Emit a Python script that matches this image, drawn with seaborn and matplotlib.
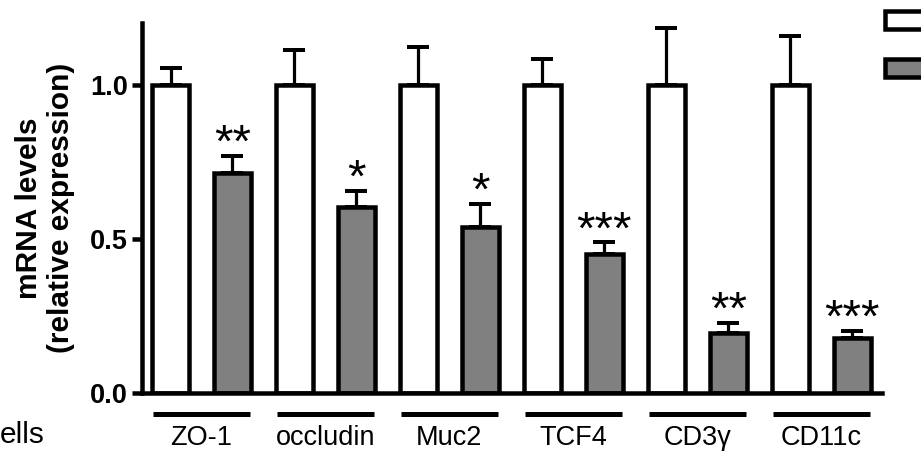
import pandas as pd
import seaborn as sns
import matplotlib.pyplot as plt
from matplotlib.patches import Patch

# values
genes = ['ZO-1', 'occludin', 'Muc2', 'TCF4', 'CD3γ', 'CD11c']
ctrl_mean = [1.0, 1.0, 1.0, 1.0, 1.0, 1.0]
ctrl_sem = [0.056, 0.114, 0.122, 0.084, 0.186, 0.159]
treat_mean = [0.714, 0.603, 0.540, 0.451, 0.194, 0.179]
treat_sem = [0.056, 0.053, 0.074, 0.038, 0.034, 0.022]
stars = ['**', '*', '*', '***', '**', '***']
groups = ['control', 'treated']

df = pd.DataFrame({
    'gene': genes * 2,
    'group': [groups[0]] * len(genes) + [groups[1]] * len(genes),
    'value': ctrl_mean + treat_mean,
    'sem': ctrl_sem + treat_sem,
})

sns.set_style('ticks')
plt.rcParams['font.family'] = ['Liberation Sans', 'DejaVu Sans']
plt.rcParams.update({'text.color': 'black', 'axes.labelcolor': 'black',
                     'xtick.color': 'black', 'ytick.color': 'black',
                     'axes.edgecolor': 'black'})

PX = 72 / 100  # points per pixel at dpi 100
LW = 4.5 * PX

fig = plt.figure(figsize=(9.21, 4.58), dpi=100)
ax = fig.add_axes([142 / 921, 65 / 458, 740 / 921, 369.6 / 458])

sns.barplot(data=df, x='gene', y='value', hue='group',
            palette=['white', '#808080'], width=1.0, gap=0.41,
            edgecolor='black', linewidth=LW, errorbar=None,
            legend=False, ax=ax, zorder=2)

# one-sided error bars + significance stars
bars = sorted(ax.patches, key=lambda p: p.get_x())
sems = [s for pair in zip(ctrl_sem, treat_sem) for s in pair]
labels = [s for pair in zip([''] * len(stars), stars) for s in pair]
for p, s, lab in zip(bars, sems, labels):
    xc = p.get_x() + p.get_width() / 2
    top = p.get_height()
    ax.errorbar(xc, top, yerr=[[0], [s]], fmt='none', ecolor='black',
                elinewidth=3.2 * PX, capsize=11.5 * PX, capthick=4 * PX, zorder=1)
    if lab:
        ax.text(xc, top + s - 0.003, lab, ha='center', va='baseline',
                fontsize=34)

# underlines below the gene groups
for i in range(len(genes)):
    ax.plot([i - 0.39, i + 0.39], [-0.068, -0.068], color='black',
            lw=5 * PX, solid_capstyle='butt', clip_on=False)

ax.set_xlim(-0.48, 5.49)
ax.set_ylim(0, 1.2)
ax.set_yticks([0, 0.5, 1.0])
ax.set_yticklabels(['0.0', '0.5', '1.0'], fontweight='bold', fontsize=19.5)
ax.tick_params(axis='y', length=10 * PX, width=LW, pad=3)
ax.tick_params(axis='x', length=0, pad=23, labelsize=19.5)
ax.set_xlabel('')
ax.set_ylabel('mRNA levels\n(relative expression)', fontweight='bold',
              fontsize=21.5, labelpad=11, linespacing=1.15)
for side in ['top', 'right']:
    ax.spines[side].set_visible(False)
for side in ['left', 'bottom']:
    ax.spines[side].set_linewidth(LW)

handles = [Patch(facecolor='white', edgecolor='black', linewidth=LW),
           Patch(facecolor='#808080', edgecolor='black', linewidth=LW)]
fig.legend(handles, ['', ''], loc='upper left',
           bbox_to_anchor=(885 / 921, 1 - 11 / 458), frameon=False,
           fontsize=16, handlelength=3, handleheight=0.85, borderpad=0,
           borderaxespad=0, labelspacing=1.2, handletextpad=0)

fig.text(0, 15 / 458, 'ells', fontsize=21.5, ha='left', va='baseline')

plt.savefig('out.png', dpi=100)
